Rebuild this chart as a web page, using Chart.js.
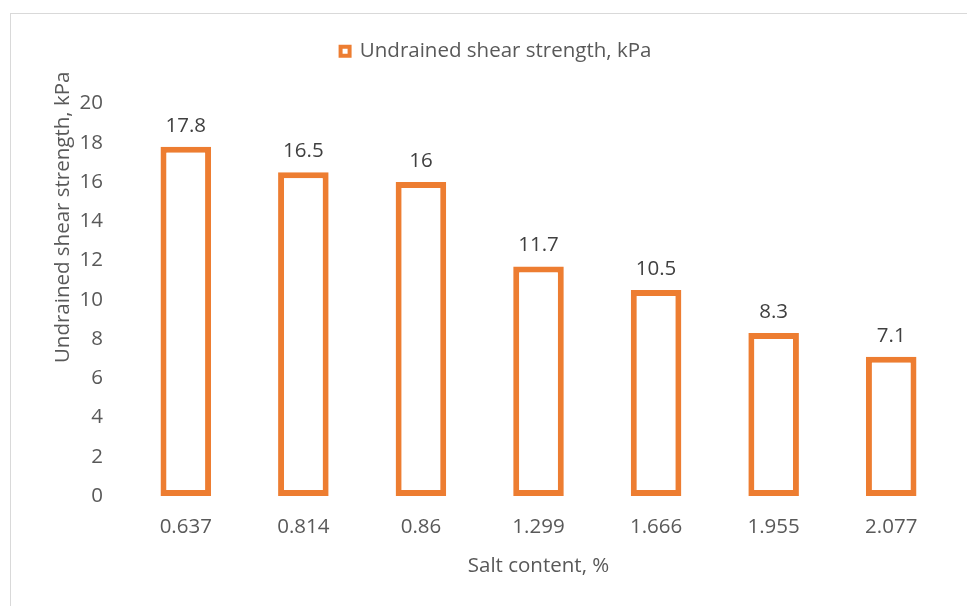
<!DOCTYPE html>
<html>
<head>
<meta charset="utf-8">
<script src="https://cdn.jsdelivr.net/npm/chart.js@4/dist/chart.umd.min.js"></script>
<style>
  html, body { margin: 0; padding: 0; background: #fff; overflow: hidden; }
  #wrap { position: relative; width: 967px; height: 606px; }
  #frame { position: absolute; left: 10px; top: 13px; width: 1000px; height: 700px;
           border: 1px solid #d9d9d9; box-sizing: border-box; pointer-events: none; }
  canvas { position: absolute; left: 0; top: 0; }
</style>
</head>
<body>
<div id="wrap">
  <div id="frame"></div>
  <canvas id="c" width="967" height="606"></canvas>
</div>
<script>
// Salt content (%) of each sample and its undrained shear strength (kPa)
const saltContent = ['0.637', '0.814', '0.86', '1.299', '1.666', '1.955', '2.077'];
const shearStrength = [17.8, 16.5, 16, 11.7, 10.5, 8.3, 7.1];
const seriesName = 'Undrained shear strength, kPa';
const yTitle = 'Undrained shear strength, kPa';
const xTitle = 'Salt content, %';

const ORANGE = '#ED7D31';
const AXIS_TEXT = '#595959';
const LABEL_TEXT = '#404040';
const FONT = "'Open Sans', sans-serif";
const FONT_SIZE = 20.5;

// Extra gap between the legend and the plot
const legendGap = {
  id: 'legendGap',
  beforeInit(chart) {
    const fit = chart.legend.fit;
    chart.legend.fit = function () {
      fit.call(this);
      this.height += 32;
    };
  }
};

// Value labels above each bar
const valueLabels = {
  id: 'valueLabels',
  afterDatasetsDraw(chart) {
    const ctx = chart.ctx;
    const meta = chart.getDatasetMeta(0);
    ctx.save();
    ctx.font = FONT_SIZE + 'px ' + FONT;
    ctx.fillStyle = LABEL_TEXT;
    ctx.textAlign = 'center';
    ctx.textBaseline = 'alphabetic';
    meta.data.forEach((bar, i) => {
      ctx.fillText(String(chart.data.datasets[0].data[i]), bar.x, bar.y - 15);
    });
    ctx.restore();
  }
};

// Rotated title for the value axis
const valueAxisTitle = {
  id: 'valueAxisTitle',
  afterDraw(chart) {
    const ctx = chart.ctx;
    const area = chart.chartArea;
    ctx.save();
    ctx.font = FONT_SIZE + 'px ' + FONT;
    ctx.fillStyle = AXIS_TEXT;
    ctx.textAlign = 'center';
    ctx.textBaseline = 'middle';
    ctx.translate(63, area.top + (area.bottom - area.top) * 0.29);
    ctx.rotate(-Math.PI / 2);
    ctx.fillText(yTitle, 0, 0);
    ctx.restore();
  }
};

new Chart(document.getElementById('c'), {
  type: 'bar',
  data: {
    labels: saltContent,
    datasets: [{
      label: seriesName,
      data: shearStrength,
      backgroundColor: '#ffffff',
      borderColor: ORANGE,
      borderWidth: 6,
      borderSkipped: false,
      barPercentage: 0.43,
      categoryPercentage: 1.0
    }]
  },
  options: {
    responsive: false,
    animation: false,
    devicePixelRatio: 1,
    layout: { padding: { left: 42, right: 17, top: 3, bottom: 0 } },
    plugins: {
      tooltip: { enabled: false },
      legend: {
        position: 'top',
        labels: {
          color: AXIS_TEXT,
          font: { family: FONT, size: FONT_SIZE },
          boxWidth: 9,
          boxHeight: 9,
          padding: 38,
          generateLabels(chart) {
            const ds = chart.data.datasets[0];
            return [{
              text: ds.label,
              fillStyle: '#ffffff',
              strokeStyle: ORANGE,
              lineWidth: 4,
              fontColor: AXIS_TEXT,
              datasetIndex: 0,
              hidden: false
            }];
          }
        }
      }
    },
    scales: {
      x: {
        grid: { display: false, drawTicks: false },
        border: { display: false },
        ticks: { color: AXIS_TEXT, font: { family: FONT, size: FONT_SIZE }, padding: 19, maxRotation: 0 },
        title: { display: true, text: xTitle, color: AXIS_TEXT,
                 font: { family: FONT, size: FONT_SIZE }, padding: { top: 0, bottom: 28 } },
        afterFit(scale) { scale.height = 110; }
      },
      y: {
        min: 0,
        max: 20,
        grid: { display: false, drawTicks: false },
        border: { display: false },
        ticks: { stepSize: 2, color: AXIS_TEXT, font: { family: FONT, size: FONT_SIZE }, padding: 24 },
        afterFit(scale) { scale.width = 85; }
      }
    }
  },
  plugins: [legendGap, valueLabels, valueAxisTitle]
});
</script>
</body>
</html>
